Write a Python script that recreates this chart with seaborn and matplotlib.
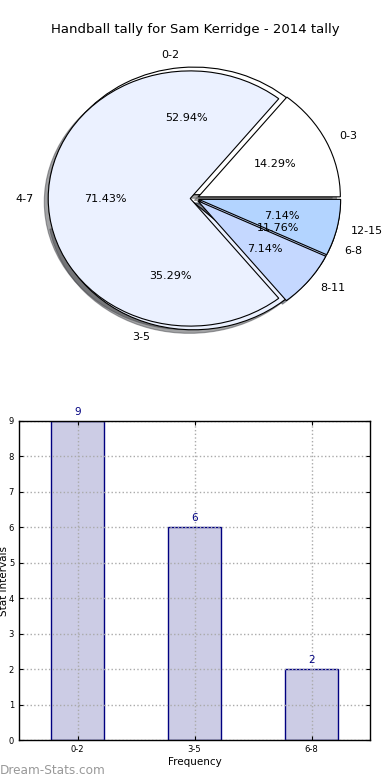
import matplotlib
matplotlib.use("Agg")
import matplotlib.pyplot as plt
import seaborn as sns
import pandas as pd

sns.set_style("white")
plt.rcParams['font.family'] = ['DejaVu Sans']
plt.rcParams['text.color'] = 'black'
plt.rcParams['axes.labelcolor'] = 'black'
plt.rcParams['xtick.color'] = 'black'
plt.rcParams['ytick.color'] = 'black'

# Data
title = "Handball tally for Sam Kerridge - 2014 tally"
pie1_labels = ["0-2", "3-5", "6-8"]
pie1_values = [9, 6, 2]
pie2_labels = ["0-3", "4-7", "8-11", "12-15"]
pie2_values = [2, 10, 1, 1]
bar_categories = ["0-2", "3-5", "6-8"]
bar_values = [9, 6, 2]

W, H = 390, 780
fig = plt.figure(figsize=(W / 100, H / 100), dpi=100)

def rect(l, t, w, h):
    return [l / W, 1 - (t + h) / H, w / W, h / H]

# Pie chart
axp = fig.add_axes(rect(17, 39, 355, 319))
c1 = ["white", "#EBF1FF", "#C5D8FF"]
c2 = ["white", "#EBF1FF", "#C5D8FF", "#B3D4FF"]
wp = dict(edgecolor="black", linewidth=0.8)
axp.pie(pie1_values, labels=pie1_labels, colors=c1, explode=[0.03] * 3,
        autopct="%1.2f%%", shadow=True, startangle=0, wedgeprops=wp,
        textprops=dict(fontsize=8, color="black"))
axp.pie(pie2_values, labels=pie2_labels, colors=c2, explode=[0.03] * 4,
        autopct="%1.2f%%", shadow=True, startangle=0, wedgeprops=wp,
        textprops=dict(fontsize=8, color="black"))
axp.set_aspect("auto")
axp.set_xlim(-1.25, 1.25)
axp.set_ylim(-1.25, 1.25)
axp.axis("off")
fig.text(195.5 / W, 1 - 30 / H, title, ha="center", va="center", fontsize=9.5)

# Bar chart
axb = fig.add_axes(rect(19, 421, 351, 319))
df = pd.DataFrame({"cat": bar_categories, "val": bar_values})
sns.barplot(data=df, x="cat", y="val", ax=axb, color="#CCCCE5",
            edgecolor="#000080", linewidth=1.0, width=0.45, saturation=1)
axb.set_xlim(-0.5, 2.5)
axb.set_ylim(0, 9)
axb.set_yticks(range(0, 10))
axb.grid(True, linestyle=":", color="#aaaaaa", linewidth=1.0)
axb.set_axisbelow(False)
for p in axb.patches:
    p.set_zorder(1)
for gl in axb.get_xgridlines() + axb.get_ygridlines():
    gl.set_zorder(2)
for s in axb.spines.values():
    s.set_visible(True)
    s.set_color("black")
    s.set_linewidth(1.0)
    s.set_zorder(3)
axb.tick_params(axis="both", direction="in", length=3, labelsize=6,
                top=True, right=True, left=True, bottom=True, color="black")
for i, v in enumerate(bar_values):
    axb.annotate(str(v), (i, v), xytext=(0, 3), textcoords="offset points",
                 ha="center", va="bottom", color="#000080", fontsize=7.5)
axb.set_xlabel("Frequency", fontsize=7.5, labelpad=2)
axb.set_ylabel("Stat Intervals", fontsize=7.5)
axb.yaxis.set_label_coords(-9.5 / 351, 0.5)

fig.text(0.0, 1 - 770 / H, "Dream-Stats.com", ha="left", va="center",
         fontsize=8.7, color="#999999")

fig.savefig("out.png", dpi=100)
